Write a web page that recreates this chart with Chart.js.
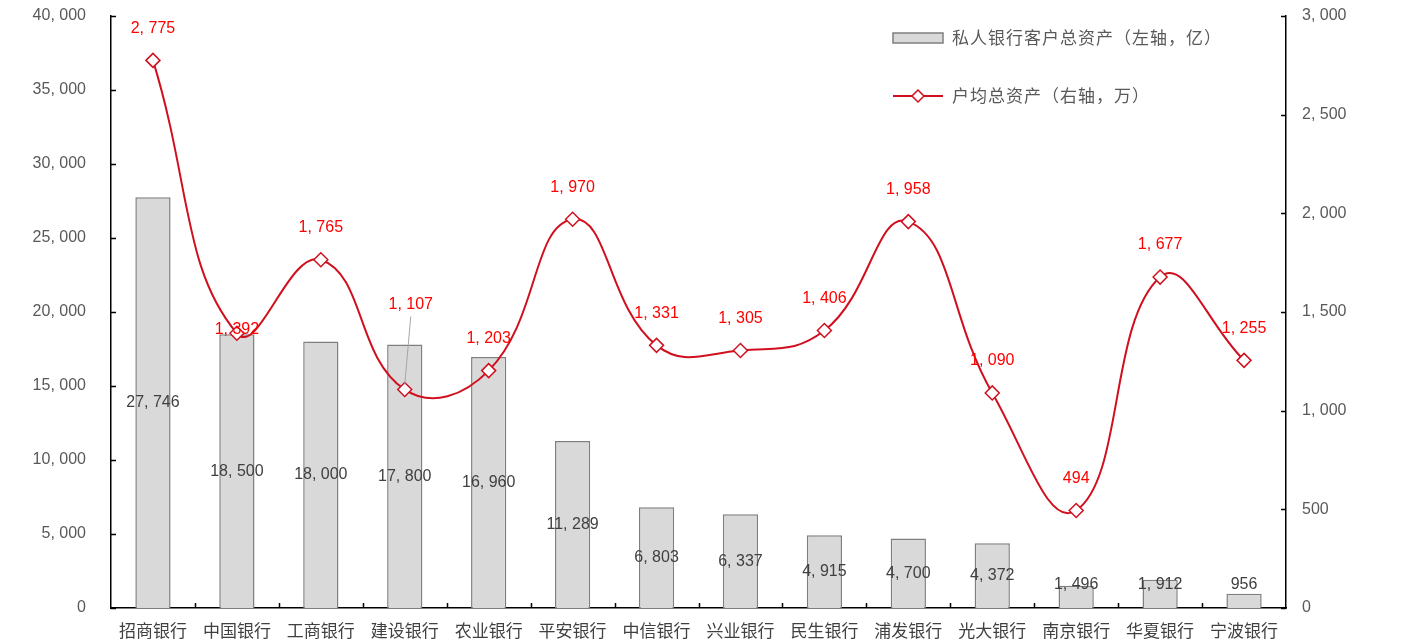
<!DOCTYPE html>
<html>
<head>
<meta charset="utf-8">
<script src="https://cdn.jsdelivr.net/npm/chart.js@4.4.1/dist/chart.umd.min.js"></script>
<style>
  html, body { margin: 0; background: #fff; }
  #caixa { width: 1404px; height: 643px; }
</style>
</head>
<body>
<div id="caixa"><canvas id="grafico"></canvas></div>
<script>
const bancos = ['招商银行', '中国银行', '工商银行', '建设银行', '农业银行', '平安银行', '中信银行',
  '兴业银行', '民生银行', '浦发银行', '光大银行', '南京银行', '华夏银行', '宁波银行'];
const totalAtivos = [27746, 18500, 18000, 17800, 16960, 11289, 6803, 6337, 4915, 4700, 4372, 1496, 1912, 956];
const mediaCliente = [2775, 1392, 1765, 1107, 1203, 1970, 1331, 1305, 1406, 1958, 1090, 494, 1677, 1255];
const legendas = ['私人银行客户总资产（左轴，亿）', '户均总资产（右轴，万）'];
const eixoEsq = { max: 40000, passo: 5000 };
const eixoDir = { max: 3000, passo: 500 };

const VERMELHO = '#d0101e';
const fonteNum = '"Liberation Sans", Arial, sans-serif';
const fonteCJK = '"Noto Sans CJK SC", sans-serif';

function fmt(v) {
  return Number(v).toLocaleString('en-US').replace(/,/g, ', ');
}

// ticks para dentro, rotulos e legenda
const extras = {
  id: 'extras',
  afterDraw(chart) {
    const ctx = chart.ctx;
    const area = chart.chartArea;
    const x = chart.scales.x;
    const y = chart.scales.y;
    const y1 = chart.scales.y1;
    ctx.save();
    ctx.strokeStyle = '#000';
    ctx.lineWidth = 1.5;
    ctx.beginPath();
    y.ticks.forEach((t) => {
      const py = Math.round(y.getPixelForValue(t.value)) + 0.5;
      ctx.moveTo(area.left, py); ctx.lineTo(area.left + 5, py);
    });
    y1.ticks.forEach((t) => {
      const py = Math.round(y1.getPixelForValue(t.value)) + 0.5;
      ctx.moveTo(area.right, py); ctx.lineTo(area.right - 5, py);
    });
    for (let i = 1; i < bancos.length; i++) {
      const px = Math.round((x.getPixelForValue(i - 1) + x.getPixelForValue(i)) / 2) + 0.5;
      ctx.moveTo(px, area.bottom); ctx.lineTo(px, area.bottom - 5);
    }
    ctx.stroke();

    // rotulos das barras
    ctx.font = '16px ' + fonteNum;
    ctx.textAlign = 'center';
    ctx.textBaseline = 'middle';
    ctx.fillStyle = '#404040';
    chart.getDatasetMeta(0).data.forEach((bar, i) => {
      const meio = Math.min((bar.y + bar.base) / 2, area.bottom - 23);
      ctx.fillText(fmt(totalAtivos[i]), bar.x, meio);
    });

    // rotulos da linha
    const desvio = { 1: 4, 3: 85 };
    ctx.fillStyle = '#ff0000';
    chart.getDatasetMeta(1).data.forEach((pt, i) => {
      const dy = desvio[i] !== undefined ? desvio[i] : 32;
      const lx = i === 3 ? pt.x + 6 : pt.x;
      if (i === 3) {
        ctx.strokeStyle = '#a6a6a6';
        ctx.lineWidth = 1;
        ctx.beginPath();
        ctx.moveTo(lx, pt.y - dy + 12);
        ctx.lineTo(pt.x, pt.y - 5);
        ctx.stroke();
      }
      ctx.fillText(fmt(mediaCliente[i]), lx, pt.y - dy);
    });

    // legenda
    ctx.font = '17px ' + fonteCJK;
    ctx.letterSpacing = '1px';
    ctx.textAlign = 'left';
    ctx.fillStyle = '#d9d9d9';
    ctx.fillRect(893, 33, 50, 10);
    ctx.strokeStyle = '#7f7f7f';
    ctx.lineWidth = 1.5;
    ctx.strokeRect(893, 33, 50, 10);
    ctx.fillStyle = '#595959';
    ctx.fillText(legendas[0], 952, 38);

    ctx.strokeStyle = VERMELHO;
    ctx.lineWidth = 2;
    ctx.beginPath();
    ctx.moveTo(893, 96); ctx.lineTo(943, 96);
    ctx.stroke();
    ctx.beginPath();
    ctx.moveTo(918, 90); ctx.lineTo(924, 96); ctx.lineTo(918, 102); ctx.lineTo(912, 96); ctx.closePath();
    ctx.fillStyle = '#fff';
    ctx.fill();
    ctx.lineWidth = 1.5;
    ctx.stroke();
    ctx.fillStyle = '#595959';
    ctx.fillText(legendas[1], 952, 96);
    ctx.restore();
  }
};

const semGrade = { display: false, drawTicks: false, tickLength: 0 };

function larguraFixa(w) {
  return (s) => { s.width = w; s.paddingTop = 0; s.paddingBottom = 0; };
}

new Chart(document.getElementById('grafico'), {
  data: {
    labels: bancos,
    datasets: [
      {
        type: 'bar',
        label: legendas[0],
        data: totalAtivos,
        yAxisID: 'y',
        backgroundColor: '#d9d9d9',
        borderColor: '#7f7f7f',
        borderWidth: 1.5,
        barPercentage: 0.42,
        categoryPercentage: 1,
        order: 1
      },
      {
        type: 'line',
        label: legendas[1],
        data: mediaCliente,
        yAxisID: 'y1',
        borderColor: VERMELHO,
        borderWidth: 2,
        tension: 0.45,
        pointStyle: 'rectRot',
        pointRadius: 7,
        pointBackgroundColor: '#fff',
        pointBorderColor: VERMELHO,
        pointBorderWidth: 1.5,
        order: 0
      }
    ]
  },
  options: {
    responsive: true,
    maintainAspectRatio: false,
    animation: false,
    layout: { autoPadding: false, padding: { top: 16, right: 0, left: 0, bottom: 0 } },
    plugins: {
      legend: { display: false },
      tooltip: { enabled: false }
    },
    scales: {
      x: {
        grid: semGrade,
        border: { color: '#000', width: 1.5 },
        ticks: { color: '#404040', font: { family: fonteCJK, size: 17 }, padding: 12, maxRotation: 0 },
        afterFit: (s) => { s.height = 35; s.paddingLeft = 0; s.paddingRight = 0; }
      },
      y: {
        position: 'left',
        min: 0,
        max: eixoEsq.max,
        grid: semGrade,
        border: { color: '#000', width: 1.5 },
        ticks: { stepSize: eixoEsq.passo, color: '#595959', font: { family: fonteNum, size: 16 }, padding: 25, callback: (v) => fmt(v) },
        afterFit: larguraFixa(111)
      },
      y1: {
        position: 'right',
        min: 0,
        max: eixoDir.max,
        grid: semGrade,
        border: { color: '#000', width: 1.5 },
        ticks: { stepSize: eixoDir.passo, color: '#595959', font: { family: fonteNum, size: 16 }, padding: 16, callback: (v) => fmt(v) },
        afterFit: larguraFixa(118)
      }
    }
  },
  plugins: [extras]
});
</script>
</body>
</html>
